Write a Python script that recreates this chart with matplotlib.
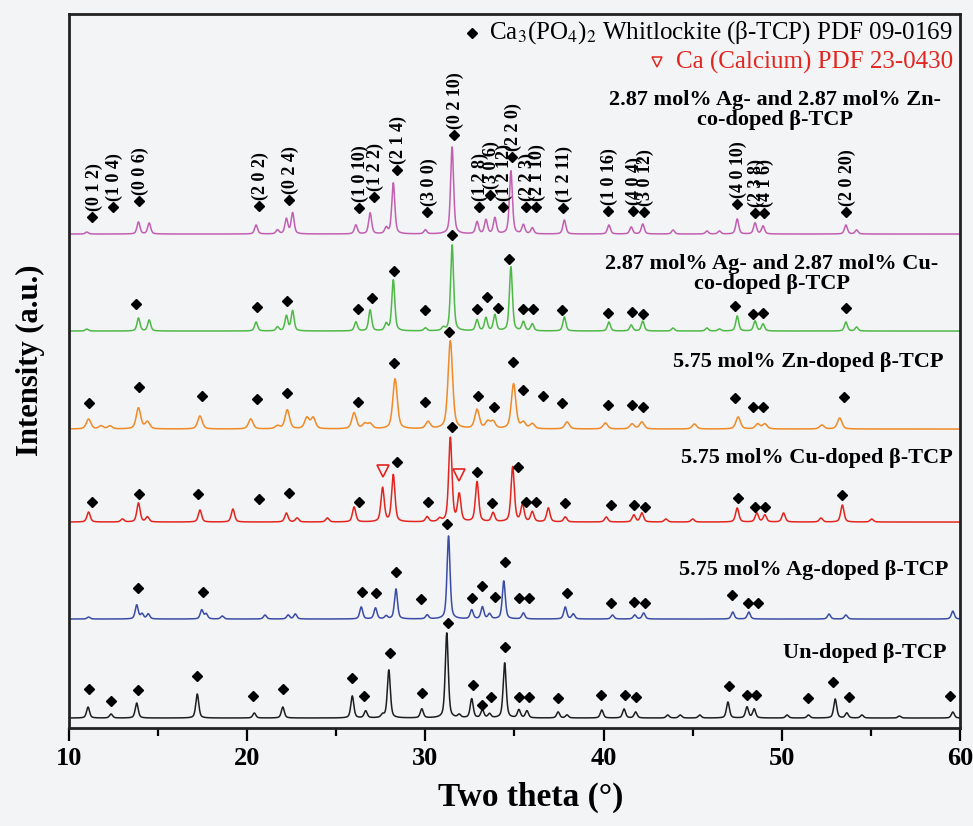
import numpy as np
import matplotlib
matplotlib.use('Agg')
import matplotlib.pyplot as plt
from matplotlib.ticker import MultipleLocator

plt.rcParams['font.family'] = ['Liberation Serif', 'DejaVu Serif']
plt.rcParams['mathtext.fontset'] = 'stix'

# sample names, bottom to top
samples = ['Un-doped β-TCP',
           '5.75 mol% Ag-doped β-TCP',
           '5.75 mol% Cu-doped β-TCP',
           '5.75 mol% Zn-doped β-TCP',
           '2.87 mol% Ag- and 2.87 mol% Cu-\nco-doped β-TCP',
           '2.87 mol% Ag- and 2.87 mol% Zn-\nco-doped β-TCP']
offsets = [10, 109, 206, 299, 397, 494]

black_pos = [11.07, 12.36, 13.8, 17.2, 20.4, 22.0, 25.9, 26.65, 27.6, 27.95, 29.8, 31.2, 31.9,
             32.6, 33.2, 33.6, 34.45, 35.25, 35.7, 37.45, 37.95, 39.9, 41.15, 41.8, 43.6, 44.3,
             45.4, 46.98, 48.05, 48.45, 50.3, 51.5, 53.0, 53.65, 54.5, 56.6, 59.6]
black_h = [11, 4, 15, 24, 5, 11, 22, 7, 3, 48, 9, 85, 3, 19, 8, 4, 55, 8, 7, 6, 3, 8, 9, 6, 3, 3,
           3, 16, 11, 9, 3, 3, 19, 5, 3, 2, 6]

blue_pos = [11.1, 13.8, 14.1, 14.45, 17.45, 17.7, 18.6, 21.0, 22.3, 22.7, 26.4, 27.2, 27.8, 28.35,
            30.1, 31.3, 32.6, 33.2, 33.6, 34.4, 35.5, 37.85, 38.3, 40.5, 41.75, 42.25, 47.25,
            48.15, 52.65, 53.6, 59.6]
blue_h = [2, 14, 5, 5, 9, 5, 3, 4, 4, 5, 12, 11, 3, 30, 4, 83, 9, 12, 5, 38, 6, 12, 5, 4, 4, 6, 7,
          7, 5, 4, 8]

red_pos = [11.1, 13.0, 13.9, 14.4, 17.35, 19.2, 22.2, 22.8, 24.5, 26.0, 27.6, 28.2, 30.1, 30.8,
           31.4, 31.9, 32.9, 33.8, 34.9, 35.45, 36.0, 36.9, 37.85, 40.15, 41.7, 42.15, 43.5, 45.0,
           47.5, 48.6, 49.05, 50.1, 52.2, 53.4, 55.05]
red_h = [10, 3, 19, 5, 12, 13, 9, 4, 4, 15, 34, 47, 5, 3, 84, 27, 40, 9, 55, 17, 10, 14, 5, 5, 7,
         9, 3, 3, 14, 9, 7, 9, 4, 17, 3]

orange_pos = [11.1, 11.8, 12.3, 13.9, 14.4, 17.35, 20.2, 21.7, 22.25, 23.35, 23.7, 26.0, 26.6,
              26.9, 28.3, 30.15, 31.4, 32.9, 33.5, 33.8, 34.95, 35.5, 36.0, 37.95, 40.1, 41.6,
              42.15, 45.1, 47.55, 48.65, 49.05, 52.25, 53.25]
orange_h = [10, 3, 3, 21, 7, 13, 10, 3, 19, 11, 11, 16, 5, 5, 50, 7, 88, 19, 7, 7, 45, 6, 5, 7, 6,
            5, 7, 5, 12, 5, 5, 4, 11]

green_pos = [11.0, 13.9, 14.5, 20.5, 21.7, 22.2, 22.55, 26.1, 26.9, 27.8, 28.2, 30.0, 31.0, 31.5,
             32.9, 33.4, 33.9, 34.8, 35.5, 36.0, 37.8, 40.3, 41.55, 42.2, 43.9, 45.8, 46.5, 47.5,
             48.5, 48.95, 53.6, 54.2]
green_h = [2, 13, 11, 9, 4, 15, 20, 9, 21, 7, 51, 3, 3, 86, 11, 13, 16, 64, 9, 7, 14, 9, 6, 10, 3,
           3, 2, 15, 10, 7, 9, 4]

pink_pos = [11.0, 13.9, 14.5, 20.5, 21.7, 22.2, 22.55, 26.1, 26.9, 27.8, 28.2, 30.0, 31.5, 32.9,
            33.4, 33.9, 34.8, 35.5, 36.0, 37.8, 40.3, 41.55, 42.2, 43.9, 45.8, 46.5, 47.5, 48.5,
            48.95, 53.6, 54.2]
pink_h = [2, 12, 11, 9, 4, 15, 21, 9, 21, 6, 51, 4, 87, 12, 14, 16, 63, 9, 6, 14, 9, 7, 10, 4, 3,
          3, 15, 11, 8, 9, 4]

# beta-TCP marks (position, height above the pattern's baseline)
black_d = [11.1, 12.36, 13.9, 17.2, 20.35, 22.0, 25.9, 26.55, 28.0, 29.8, 31.27, 32.67, 33.2,
           33.7, 34.46, 35.25, 35.8, 37.45, 39.85, 41.2, 41.8, 47.05, 48.05, 48.55, 51.5, 52.9,
           53.8, 59.45]
black_dh = [29, 17, 28, 42, 22, 29, 40, 22, 65, 25, 95, 33, 13, 21, 71, 21, 21, 20, 23, 23, 21,
            32, 23, 23, 20, 36, 21, 22]

blue_d = [13.9, 17.5, 26.45, 27.25, 28.35, 29.75, 31.2, 32.6, 33.2, 33.9, 34.47, 35.25, 35.8,
          37.95, 40.4, 41.7, 42.35, 47.2, 48.1, 48.65]
blue_dh = [31, 27, 27, 26, 47, 20, 95, 21, 33, 22, 57, 21, 21, 26, 16, 17, 16, 24, 16, 16]

red_d = [11.3, 13.95, 17.25, 20.65, 22.35, 26.3, 28.4, 30.15, 31.5, 32.9, 33.75, 35.2, 35.65,
         36.2, 37.85, 40.4, 41.7, 42.35, 47.55, 48.5, 49.05, 53.4]
red_dh = [20, 28, 28, 23, 29, 20, 60, 20, 95, 50, 19, 55, 20, 20, 19, 17, 17, 15, 24, 15, 15, 27]

orange_d = [11.1, 13.95, 17.45, 20.55, 22.25, 26.2, 28.25, 30.0, 31.35, 32.95, 33.85, 34.9, 35.5,
            36.6, 37.65, 40.25, 41.6, 42.2, 47.4, 48.4, 48.95, 53.5]
orange_dh = [26, 42, 33, 30, 36, 27, 66, 27, 97, 33, 22, 67, 39, 33, 26, 24, 24, 22, 31, 22, 22, 32]

green_d = [13.76, 20.55, 22.25, 26.2, 27.0, 28.25, 30.0, 31.5, 32.9, 33.45, 34.1, 34.7, 35.5,
           36.05, 37.65, 40.25, 41.6, 42.2, 47.4, 48.4, 48.95, 53.6]
green_dh = [27, 24, 30, 22, 33, 60, 21, 96, 22, 34, 23, 72, 22, 22, 21, 18, 19, 17, 25, 17, 18, 23]

pink_d = [11.3, 12.47, 13.93, 20.66, 22.35, 26.27, 27.1, 28.4, 30.1, 31.6, 33.0, 33.6, 34.35,
          34.86, 35.65, 36.2, 37.7, 40.25, 41.65, 42.27, 47.49, 48.5, 49.0, 53.6]
pink_dh = [17, 27, 33, 28, 34, 26, 37, 64, 22, 99, 27, 39, 27, 77, 27, 27, 26, 23, 23, 22, 30, 21,
           21, 22]
hkl = ['(0 1 2)', '(1 0 4)', '(0 0 6)', '(2 0 2)', '(0 2 4)', '(1 0 10)', '(1 2 2)', '(2 1 4)',
       '(3 0 0)', '(0 2 10)', '(1 2 8)', '(3 0 6)', '(1 2 12)', '(2 2 0)', '(2 2 3)', '(2 1 10)',
       '(1 2 11)', '(1 0 16)', '(4 0 4)', '(3 0 12)', '(4 0 10)', '(2 3 8)', '(4 1 6)', '(2 0 20)']

# Ca marks on the Cu-doped pattern
ca_pos = [27.6, 31.9]
ca_h = [51, 47]

colors = ['#1e1e1e', '#3b4ca6', '#e2251f', '#f08a28', '#4fb947', '#c25fb1']
widths = [0.2, 0.2, 0.22, 0.3, 0.2, 0.2]
bg = '#f2f4f6'


def profile(x, pos, hts, fwhm):
    y = np.zeros_like(x)
    for c, h in zip(pos, hts):
        d = (x - c) / (fwhm / 2)
        y += h * (0.5 / (1 + d ** 2) + 0.5 * np.exp(-np.log(2) * d ** 2))
    return y


fig = plt.figure(figsize=(9.73, 8.26), dpi=100, facecolor=bg)
ax = fig.add_axes([0.0709, 0.1186, 0.9157, 0.8644], facecolor=bg)

x = np.linspace(10, 60, 8001)
peaks = [(black_pos, black_h), (blue_pos, blue_h), (red_pos, red_h),
         (orange_pos, orange_h), (green_pos, green_h), (pink_pos, pink_h)]
marks = [(black_d, black_dh), (blue_d, blue_dh), (red_d, red_dh),
         (orange_d, orange_dh), (green_d, green_dh), (pink_d, pink_dh)]

for i in range(6):
    pos, hts = peaks[i]
    ax.plot(x, offsets[i] + profile(x, pos, hts, widths[i]), color=colors[i], lw=1.1, zorder=2)
    dx, dh = marks[i]
    ax.plot(dx, offsets[i] + np.array(dh), 'D', color='black', ms=5.6, zorder=3)

ax.plot(ca_pos, offsets[2] + np.array(ca_h), 'v', mfc='none', mec='#e2251f', mew=1.2, ms=8.5,
        zorder=3)

# hkl indices on the top pattern
for px, ph, lab in zip(pink_d, pink_dh, hkl):
    ax.text(px + 0.1, offsets[5] + ph + 6, lab, rotation=90, ha='center', va='bottom',
            fontsize=13, fontweight='bold')

# sample names
ax.text(49.6, 618, samples[5], ha='center', va='center', fontsize=16, fontweight='bold',
        linespacing=1.05)
ax.text(49.45, 454, samples[4], ha='center', va='center', fontsize=16, fontweight='bold',
        linespacing=1.05)
ax.text(59.05, 366, samples[3], ha='right', va='center', fontsize=16, fontweight='bold')
ax.text(59.6, 270, samples[2], ha='right', va='center', fontsize=16, fontweight='bold')
ax.text(59.33, 158, samples[1], ha='right', va='center', fontsize=16, fontweight='bold')
ax.text(59.27, 75, samples[0], ha='right', va='center', fontsize=16, fontweight='bold')

# phase legend
ax.plot([32.62], [695], 'D', color='black', ms=5.6)
ax.text(59.6, 695, r'Ca$_3$(PO$_4$)$_2$ Whitlockite (β-TCP) PDF 09-0169', ha='right',
        va='center', fontsize=18)
ax.plot([43.0], [666], 'v', mfc='none', mec='#e2251f', mew=1.1, ms=7)
ax.text(59.6, 666, 'Ca (Calcium) PDF 23-0430', ha='right', va='center', fontsize=18,
        color='#e2251f')

ax.set_xlim(10, 60)
ax.set_ylim(0, 714)
ax.xaxis.set_major_locator(MultipleLocator(10))
ax.xaxis.set_minor_locator(MultipleLocator(5))
ax.set_yticks([])
ax.tick_params(axis='x', which='major', direction='out', length=9.5, width=1.6, pad=4,
               labelsize=19)
ax.tick_params(axis='x', which='minor', direction='out', length=5.5, width=1.6)
for lbl in ax.get_xticklabels():
    lbl.set_fontweight('bold')
for s in ax.spines.values():
    s.set_linewidth(2.0)
    s.set_color('#222222')

ax.set_xlabel('Two theta (°)', fontsize=24, fontweight='bold')
ax.set_ylabel('Intensity (a.u.)', fontsize=22, fontweight='bold')
ax.xaxis.set_label_coords(0.518, -0.075)
ax.yaxis.set_label_coords(-0.027, 0.515)

fig.savefig('out.png', dpi=100, facecolor=bg)
